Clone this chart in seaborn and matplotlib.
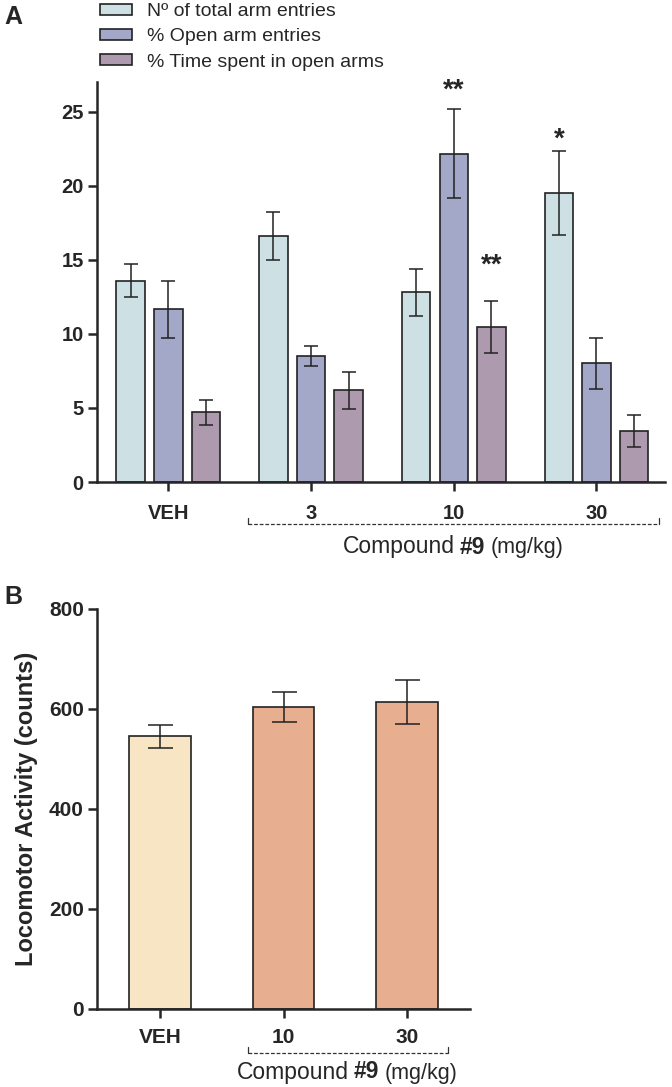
import matplotlib
matplotlib.use("Agg")
import matplotlib.pyplot as plt
import matplotlib.transforms as mtransforms
from matplotlib.patches import Patch
import pandas as pd
import seaborn as sns

# panel A - elevated plus maze
doses_a = ["VEH", "3", "10", "30"]
measures = ["Nº of total arm entries", "% Open arm entries", "% Time spent in open arms"]
total_entries = [13.6, 16.6, 12.8, 19.5]
total_entries_sem = [1.1, 1.6, 1.6, 2.85]
open_entries = [11.65, 8.5, 22.15, 8.0]
open_entries_sem = [1.9, 0.7, 3.0, 1.7]
open_time = [4.7, 6.2, 10.45, 3.45]
open_time_sem = [0.85, 1.25, 1.75, 1.1]

# significance marks: (dose index, measure index), label, height of the mark
star_bars = [(2, 1), (2, 2), (3, 0)]
star_text = ["**", "**", "*"]
star_y = [26.75, 14.9, 23.4]

# panel B - locomotor activity
doses_b = ["VEH", "10", "30"]
locomotor = [546, 605, 614]
locomotor_sem = [23, 30, 44]

colors_a = ["#cde0e4", "#a3a8c8", "#ae9aae"]
colors_b = ["#f7e5c4", "#e7ae8f", "#e7ae8f"]
edge = "#222222"

sns.set_style("ticks")
plt.rcParams['font.family'] = ['Liberation Sans', 'DejaVu Sans']
plt.rcParams['axes.linewidth'] = 1.8

fig = plt.figure(figsize=(6.72, 10.87), dpi=100)
ax_a = fig.add_axes([97 / 672, 1 - 482 / 1087, 568 / 672, 400 / 1087])
ax_b = fig.add_axes([97 / 672, 1 - 1009 / 1087, 373 / 672, 400 / 1087])

sems = [total_entries_sem, open_entries_sem, open_time_sem]
df_a = pd.DataFrame({
    "dose": doses_a * 3,
    "measure": [m for m in measures for _ in doses_a],
    "value": total_entries + open_entries + open_time,
})
sns.barplot(data=df_a, x="dose", y="value", hue="measure", order=doses_a,
            hue_order=measures, palette=colors_a, saturation=1, width=0.79, gap=0.24,
            edgecolor=edge, linewidth=1.2, errorbar=None, legend=False, ax=ax_a)

centers = []
for cont, sem in zip(ax_a.containers, sems):
    xs = [p.get_x() + p.get_width() / 2 for p in cont.patches]
    hs = [p.get_height() for p in cont.patches]
    centers.append(xs)
    ax_a.errorbar(xs, hs, yerr=sem, fmt="none", ecolor="#222222", elinewidth=1.1,
                  capsize=5, capthick=1.1, zorder=5)

for (di, mi), lab, yy in zip(star_bars, star_text, star_y):
    ax_a.text(centers[mi][di], yy - 0.3, lab, ha="center", va="center",
              fontsize=20, fontweight="bold", clip_on=False)

ax_a.set_ylim(0, 27)
ax_a.set_yticks([0, 5, 10, 15, 20, 25])
ax_a.set_xlim(-0.5, 3.48)
ax_a.set_xlabel("")
ax_a.set_ylabel("")

df_b = pd.DataFrame({"dose": doses_b, "value": locomotor})
sns.barplot(data=df_b, x="dose", y="value", hue="dose", order=doses_b,
            palette=colors_b, saturation=1, width=0.5, edgecolor=edge, linewidth=1.2,
            errorbar=None, legend=False, ax=ax_b)
xs = [p.get_x() + p.get_width() / 2 for p in ax_b.patches]
hs = [p.get_height() for p in ax_b.patches]
ax_b.errorbar(xs, hs, yerr=locomotor_sem, fmt="none", ecolor="#222222",
              elinewidth=1.1, capsize=9, capthick=1.1, zorder=5)
ax_b.set_ylim(0, 800)
ax_b.set_yticks([0, 200, 400, 600, 800])
ax_b.set_xlim(-0.51, 2.51)
ax_b.set_xlabel("")
ax_b.set_ylabel("Locomotor Activity (counts)", fontsize=17, fontweight="bold", labelpad=8)

for ax, size, xpad in [(ax_a, 14.5, 9.5), (ax_b, 15, 7.5)]:
    sns.despine(ax=ax)
    ax.tick_params(width=1.8, length=6.5, labelsize=size, pad=3)
    ax.tick_params(axis="x", pad=xpad)
    for lab in ax.get_xticklabels() + ax.get_yticklabels():
        lab.set_fontweight("bold")


def compound_label(ax, x0, x1, yb, xt, yt):
    trans = mtransforms.blended_transform_factory(ax.transData, ax.transAxes)
    ax.plot([x0, x1], [yb, yb], ls=(0, (3, 1.5)), lw=0.9, color="#333333",
            transform=trans, clip_on=False)
    for x in (x0, x1):
        ax.plot([x, x], [yb, yb + 0.015], lw=0.9, color="#333333",
                transform=trans, clip_on=False)
    t1 = ax.text(xt, yt, "Compound", transform=trans, fontsize=16.5,
                 ha="left", va="center")
    t2 = ax.annotate("#9", xy=(1, 0), xycoords=t1, xytext=(4, 0),
                     textcoords="offset points", fontsize=16.5, fontweight="bold",
                     ha="left", va="bottom")
    ax.annotate("(mg/kg)", xy=(1, 0), xycoords=t2, xytext=(4, 0),
                textcoords="offset points", fontsize=15.5, ha="left", va="bottom")


compound_label(ax_a, 0.56, 3.44, -0.105, 1.22, -0.1625)
compound_label(ax_b, 0.71, 2.33, -0.11, 0.62, -0.1575)

handles = [Patch(facecolor=c, edgecolor=edge, linewidth=1.2) for c in colors_a]
fig.legend(handles, measures, loc="upper left", bbox_to_anchor=(100 / 672, 0.997),
           frameon=False, fontsize=14, handlelength=1.65, handleheight=0.51,
           handletextpad=0.77, labelspacing=0.42, borderpad=0, borderaxespad=0)

fig.text(13 / 672, 1 - 17 / 1087, "A", fontsize=18, fontweight="bold", ha="center", va="center")
fig.text(13 / 672, 1 - 597 / 1087, "B", fontsize=18, fontweight="bold", ha="center", va="center")

fig.savefig("out.png", dpi=100)
